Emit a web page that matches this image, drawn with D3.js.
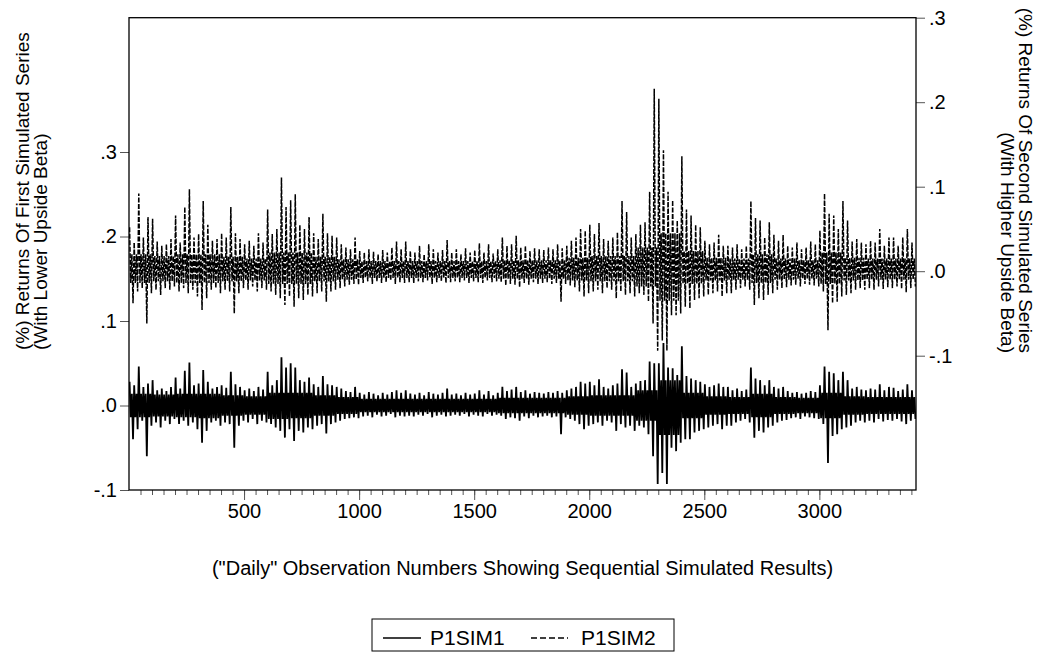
<!DOCTYPE html>
<html>
<head>
<meta charset="utf-8">
<script src="https://cdn.jsdelivr.net/npm/d3@7/dist/d3.min.js"></script>
<style>
  body { margin: 0; background: white; }
  text { font-family: "Liberation Sans", Arial, sans-serif; fill: #000; }
</style>
</head>
<body>
<svg id="graph" width="1039" height="652"></svg>
<script>
  // observations are grouped in bins of 20; each bin keeps the high and low
  // read off the picture, in thousandths
  let binSize = 20;
  let blockSize = 100;
  let obsCount = 3420;

  let sim1Hi = [28,24,46,22,26,30,18,20,17,22, 33,20,41,51,24,26,42,28,20,22,
    24,21,40,25,22,18,20,17,22,19, 40,24,30,57,45,50,45,30,28,33,
    25,22,35,25,24,22,20,17,16,22, 15,13,16,14,12,15,13,16,18,15,
    18,14,13,15,12,16,14,13,15,20, 13,14,12,15,13,14,18,13,17,12,
    15,22,17,19,22,16,18,14,16,15, 14,16,15,17,15,18,20,22,28,26,
    28,24,31,22,20,24,26,43,39,22, 26,29,30,52,50,50,74,45,44,36,
    70,35,32,30,28,25,22,24,26,22, 22,18,20,17,19,45,32,30,24,30,
    22,20,22,17,15,16,14,15,17,16, 24,46,40,38,30,40,30,20,22,19,
    18,20,19,25,18,22,21,17,19,25,18];
  let sim1Lo = [-40,-28,-18,-60,-24,-20,-26,-18,-22,-16, -22,-18,-24,-20,-28,-44,-30,-20,-18,-24,
    -20,-22,-50,-24,-18,-20,-16,-22,-18,-20, -22,-26,-30,-38,-28,-42,-30,-32,-26,-28,
    -24,-22,-33,-22,-20,-18,-16,-15,-14,-15, -13,-12,-14,-11,-13,-12,-10,-14,-12,-13,
    -12,-13,-11,-12,-10,-14,-12,-11,-13,-12, -11,-12,-10,-13,-11,-12,-13,-10,-12,-11,
    -12,-16,-14,-15,-18,-13,-15,-12,-14,-13, -12,-14,-13,-34,-14,-16,-18,-22,-28,-24,
    -22,-20,-24,-18,-20,-30,-22,-26,-24,-30, -24,-26,-34,-60,-93,-80,-93,-50,-54,-44,
    -40,-40,-32,-30,-28,-26,-24,-22,-28,-24, -24,-20,-18,-16,-20,-38,-30,-32,-26,-24,
    -20,-18,-17,-15,-14,-16,-13,-14,-15,-16, -22,-68,-36,-34,-28,-26,-24,-20,-18,-20,
    -18,-20,-16,-19,-17,-18,-16,-19,-22,-18,-16];
  let sim2Hi = [52,34,92,40,64,62,35,30,32,38, 66,34,76,97,40,44,83,55,36,38,
    45,40,76,45,38,32,36,30,45,34, 73,44,50,111,76,84,91,55,50,64,
    45,38,68,45,42,40,32,28,26,40, 24,22,26,23,20,25,22,28,35,26,
    35,24,22,30,20,32,26,22,25,37, 22,26,20,27,22,25,33,22,32,21,
    26,40,30,32,42,28,30,24,27,26, 25,28,26,32,27,30,36,40,50,48,
    55,44,57,38,36,40,46,83,70,40, 44,55,58,94,216,204,143,94,84,60,
    136,73,66,55,52,36,32,34,43,30, 30,28,32,26,30,83,63,60,40,58,
    43,36,43,30,28,34,26,28,35,32, 48,92,68,66,50,83,60,35,38,34,
    32,36,34,50,30,40,40,30,40,50,34];
  let sim2Lo = [-38,-24,-20,-62,-26,-22,-28,-20,-22,-18, -24,-20,-26,-22,-30,-46,-32,-22,-20,-26,
    -22,-24,-50,-26,-20,-22,-18,-24,-20,-22, -24,-28,-32,-40,-30,-42,-32,-34,-28,-30,
    -26,-24,-36,-24,-22,-20,-18,-16,-15,-16, -14,-12,-15,-12,-14,-13,-11,-15,-13,-14,
    -13,-14,-12,-13,-11,-15,-13,-12,-14,-13, -12,-13,-11,-14,-12,-13,-14,-11,-13,-12,
    -13,-17,-15,-16,-19,-14,-16,-13,-15,-14, -13,-15,-14,-36,-15,-17,-19,-24,-30,-26,
    -24,-22,-26,-20,-22,-32,-24,-28,-26,-30, -26,-28,-36,-62,-94,-82,-94,-52,-52,-50,
    -42,-44,-34,-32,-30,-28,-26,-24,-30,-26, -26,-22,-20,-18,-22,-40,-32,-34,-28,-26,
    -22,-20,-19,-17,-16,-18,-15,-16,-17,-18, -24,-70,-38,-36,-30,-28,-26,-22,-20,-22,
    -20,-22,-18,-21,-19,-20,-18,-21,-25,-20,-18];

  // the dense solid part of each band, one value per 100 observations
  let sim1CoreUp = [14,13,14,14,12,11,15,15,12,10, 8,8,8,8,8,8,9,9,9,11,
    12,12,18,30,15,11,10,14,10,9, 15,11,10,10,10];
  let sim1CoreDn = [-14,-13,-14,-15,-12,-11,-16,-15,-12,-10, -8,-8,-8,-8,-8,-8,-9,-9,-9,-11,
    -12,-12,-18,-35,-15,-11,-10,-14,-10,-9, -15,-11,-10,-10,-10];
  let sim2CoreUp = [20,18,20,20,17,15,22,22,17,14, 12,12,12,12,12,12,13,13,13,16,
    18,18,28,45,24,16,15,20,15,13, 22,16,15,15,15];
  let sim2CoreDn = [-14,-12,-14,-14,-12,-11,-15,-15,-12,-10, -8,-8,-8,-8,-8,-8,-9,-9,-9,-11,
    -12,-12,-18,-35,-15,-11,-10,-14,-10,-9, -15,-11,-10,-10,-10];

  let xMajorTicks = [500, 1000, 1500, 2000, 2500, 3000];
  let yTicks = [-0.1, 0, 0.1, 0.2, 0.3];
  let seriesNames = ["P1SIM1", "P1SIM2"];

  let svg = d3.select("#graph");
  let box = {left: 129, right: 916, top: 17.7, bottom: 490};

  let x = d3.scaleLinear().domain([0, obsCount]).range([box.left, box.right]);
  let yLeft = d3.scaleLinear().domain([-0.1, 0.3]).range([box.bottom, 152]);
  let yRight = d3.scaleLinear().domain([-0.1, 0.3]).range([355.7, box.top]);

  // EViews style labels: ".3", ".0", "-.1"
  let fmt = function(d){ return d.toFixed(1).replace("0.", "."); };

  // each bin: its high, the core floor, the core top, its low
  function trace(hi, lo, coreUp, coreDn){
    let pts = [];
    hi.forEach(function(h, i){
      let b = Math.floor(i * binSize / blockSize);
      let o = i * binSize;
      pts.push([o + 2.5, h / 1000]);
      pts.push([o + 7.5, coreDn[b] / 1000]);
      pts.push([o + 12.5, coreUp[b] / 1000]);
      pts.push([o + 17.5, lo[i] / 1000]);
    });
    return pts;
  }

  svg.append("clipPath").attr("id", "plot-clip")
    .append("rect")
    .attr("x", box.left).attr("y", box.top)
    .attr("width", box.right - box.left).attr("height", box.bottom - box.top);

  let lineLeft = d3.line().x(function(d){return x(d[0]);}).y(function(d){return yLeft(d[1]);});
  let lineRight = d3.line().x(function(d){return x(d[0]);}).y(function(d){return yRight(d[1]);});

  let plot = svg.append("g").attr("clip-path", "url(#plot-clip)");
  plot.append("path")
    .datum(trace(sim2Hi, sim2Lo, sim2CoreUp, sim2CoreDn))
    .attr("d", lineRight)
    .attr("fill", "none").attr("stroke", "#000").attr("stroke-width", 1.5)
    .attr("stroke-linejoin", "bevel")
    .attr("stroke-dasharray", "5,1.5");
  plot.append("path")
    .datum(trace(sim1Hi, sim1Lo, sim1CoreUp, sim1CoreDn))
    .attr("d", lineLeft)
    .attr("fill", "none").attr("stroke", "#000").attr("stroke-width", 1.8)
    .attr("stroke-linejoin", "bevel");

  // axes
  let leftAxisG = svg.append("g").attr("transform", "translate(" + box.left + ",0)")
    .call(d3.axisLeft(yLeft).tickValues(yTicks).tickFormat(fmt).tickSize(9).tickPadding(3));
  let rightAxisG = svg.append("g").attr("transform", "translate(" + box.right + ",0)")
    .call(d3.axisRight(yRight).tickValues(yTicks).tickFormat(fmt).tickSize(9).tickPadding(4));
  let minorAxisG = svg.append("g").attr("transform", "translate(0," + box.bottom + ")")
    .call(d3.axisBottom(x).tickValues(d3.range(50, 3401, 50)).tickFormat("").tickSize(5));
  let xAxisG = svg.append("g").attr("transform", "translate(0," + box.bottom + ")")
    .call(d3.axisBottom(x).tickValues(xMajorTicks).tickFormat(d3.format("d")).tickSize(10).tickPadding(4));

  [leftAxisG, rightAxisG, minorAxisG, xAxisG].forEach(function(g){
    g.select(".domain").remove();
    g.selectAll("line").attr("stroke", "#555");
    g.selectAll("text").style("font-size", "20px").attr("font-family", null);
  });

  svg.append("rect")
    .attr("x", box.left).attr("y", box.top)
    .attr("width", box.right - box.left).attr("height", box.bottom - box.top)
    .attr("fill", "none").attr("stroke", "#000").attr("stroke-width", 1.3);

  // titles
  let leftTitle = ["(%) Returns Of First Simulated Series", "(With Lower Upside Beta)"];
  let rightTitle = ["(%) Returns Of Second Simulated Series", "(With Higher Upside Beta)"];
  leftTitle.forEach(function(t, i){
    svg.append("text")
      .attr("transform", "translate(" + (29 + i * 17.5) + ",350) rotate(-90)")
      .attr("text-anchor", "start").style("font-size", "19px").text(t);
  });
  rightTitle.forEach(function(t, i){
    svg.append("text")
      .attr("transform", "translate(" + (1019 - i * 18) + ",353) rotate(90)")
      .attr("text-anchor", "end").style("font-size", "19px").text(t);
  });
  svg.append("text")
    .attr("x", (box.left + box.right) / 2).attr("y", 575)
    .attr("text-anchor", "middle").style("font-size", "20px")
    .text("(\"Daily\" Observation Numbers Showing Sequential Simulated Results)");

  // legend
  let legend = svg.append("g");
  legend.append("rect").attr("x", 372).attr("y", 619).attr("width", 302).attr("height", 32)
    .attr("fill", "none").attr("stroke", "#000").attr("stroke-width", 1);
  legend.append("line").attr("x1", 383).attr("x2", 421).attr("y1", 638).attr("y2", 638)
    .attr("stroke", "#000").attr("stroke-width", 1.3);
  legend.append("text").attr("x", 430).attr("y", 645).style("font-size", "21px").text(seriesNames[0]);
  legend.append("line").attr("x1", 531).attr("x2", 568).attr("y1", 638).attr("y2", 638)
    .attr("stroke", "#000").attr("stroke-width", 1.3).attr("stroke-dasharray", "6,3");
  legend.append("text").attr("x", 581).attr("y", 645).style("font-size", "21px").text(seriesNames[1]);
</script>
</body>
</html>
